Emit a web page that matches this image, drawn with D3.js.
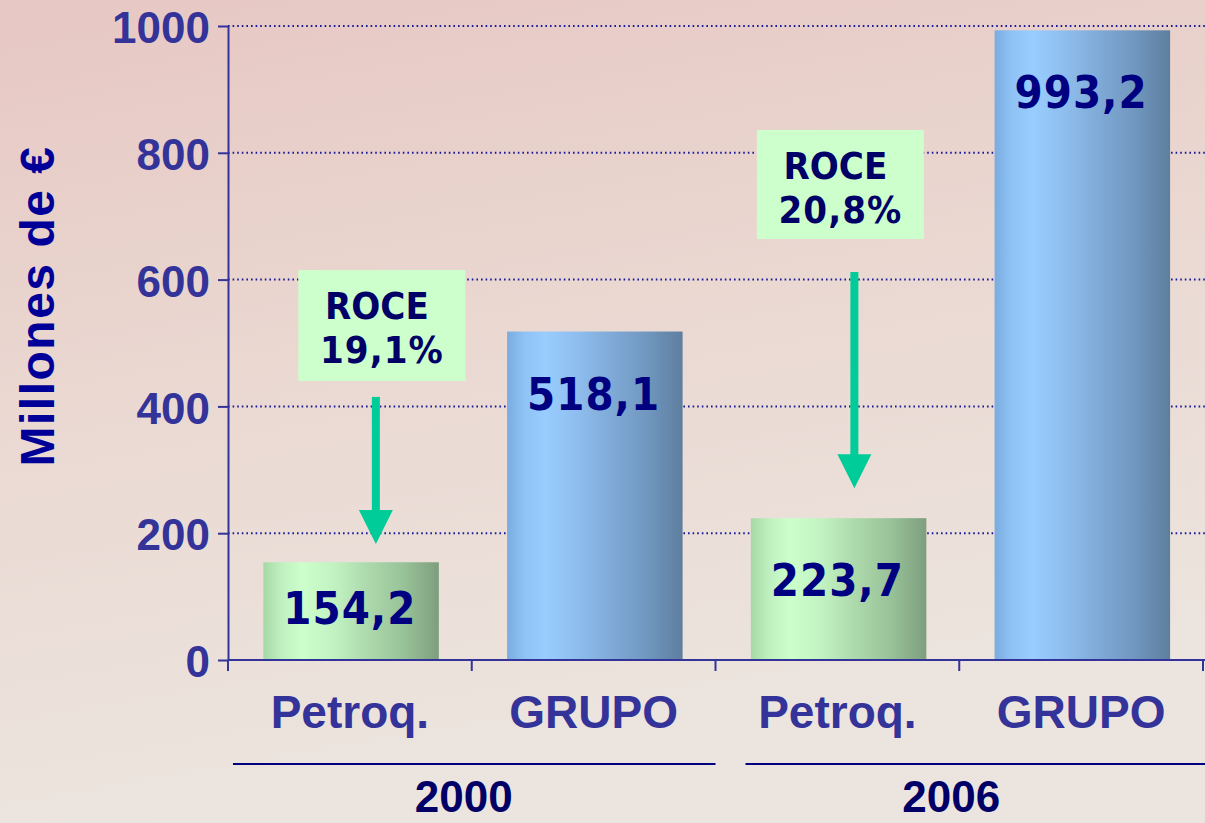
<!DOCTYPE html>
<html>
<head>
<meta charset="utf-8">
<script src="https://cdn.jsdelivr.net/npm/d3@7"></script>
<style>
  body { margin: 0; overflow: hidden; }
  svg { display: block; }
  .arial { font-family: "Liberation Sans", Arial, sans-serif; font-weight: bold; }
  .tahoma { font-family: "DejaVu Sans Condensed", "DejaVu Sans", sans-serif; font-stretch: condensed; font-weight: bold; }
</style>
</head>
<body>
<svg id="chart"></svg>
<script>
// Chart data
const years = ["2000", "2006"];
const categories = ["Petroq.", "GRUPO"];
const values2000 = [154.2, 518.1];
const values2006 = [223.7, 993.2];
const valueLabels2000 = ["154,2", "518,1"];
const valueLabels2006 = ["223,7", "993,2"];
const roceTitle = "ROCE";
const roceLabels = ["19,1%", "20,8%"];
const yTicks = [0, 200, 400, 600, 800, 1000];
const yTitle = "Millones de €";

const width = 1205, height = 823;
const margin = {top: 26, right: 2, bottom: 163, left: 228};
const innerW = width - margin.left - margin.right;
const innerH = height - margin.top - margin.bottom;

// flatten to one row per bar
const rows = [];
years.forEach((y, i) => {
  const vals = i === 0 ? values2000 : values2006;
  const labs = i === 0 ? valueLabels2000 : valueLabels2006;
  categories.forEach((c, j) => {
    rows.push({key: y + "|" + c, year: y, cat: c, catIndex: j, value: vals[j], label: labs[j]});
  });
});

const svg = d3.select("#chart").attr("width", width).attr("height", height);
const defs = svg.append("defs");

// background
const bg = defs.append("linearGradient").attr("id", "bg")
  .attr("x1", 0).attr("y1", 0).attr("x2", 0.25).attr("y2", 1);
bg.append("stop").attr("offset", "0%").attr("stop-color", "#e7c7c3");
bg.append("stop").attr("offset", "50%").attr("stop-color", "#ead9d2");
bg.append("stop").attr("offset", "100%").attr("stop-color", "#ece5df");
svg.append("rect").attr("width", width).attr("height", height).attr("fill", "url(#bg)");

// bar shading (cylinder-like)
const barStops = [
  ["#a6d8a6", "#bfefbf", "#ccffcc", "#c2f2c2", "#acd9ac", "#98c298", "#7e9e7e"],
  ["#7aace0", "#8fc2f5", "#99ccff", "#8ebeee", "#7fa9d6", "#7097bf", "#5e7e9e"]
];
const stopPos = [0, 0.1, 0.22, 0.4, 0.6, 0.8, 1];
barStops.forEach((cols, i) => {
  const g = defs.append("linearGradient").attr("id", "bar" + i)
    .attr("x1", 0).attr("y1", 0).attr("x2", 1).attr("y2", 0);
  cols.forEach((c, k) => g.append("stop").attr("offset", stopPos[k]).attr("stop-color", c));
});

const chart = svg.append("g").attr("transform", `translate(${margin.left},${margin.top})`);

const xScale = d3.scaleBand().domain(rows.map(d => d.key)).range([0, innerW]).padding(0);
const yScale = d3.scaleLinear().domain([0, 1000]).range([innerH, 0]);
const bw = xScale.bandwidth();

// dotted gridlines
chart.append("g").selectAll("line")
  .data(yTicks.filter(t => t > 0))
  .join("line")
  .attr("x1", 0).attr("x2", width - margin.left)
  .attr("y1", d => yScale(d)).attr("y2", d => yScale(d))
  .attr("stroke", "#1a1a99")
  .attr("stroke-width", 2)
  .attr("stroke-dasharray", "1.6,3");

// bars
chart.append("g").selectAll("rect")
  .data(rows)
  .join("rect")
  .attr("x", d => xScale(d.key) + bw * 0.145)
  .attr("width", bw * 0.72)
  .attr("y", d => yScale(d.value))
  .attr("height", d => innerH - yScale(d.value))
  .attr("fill", d => `url(#bar${d.catIndex})`);

// value labels inside bars
chart.append("g").selectAll("text")
  .data(rows)
  .join("text")
  .attr("class", "tahoma")
  .attr("x", d => xScale(d.key) + bw / 2)
  .attr("y", d => {
    const top = yScale(d.value);
    return Math.min(top + 78, (top + innerH) / 2 + 13);
  })
  .attr("text-anchor", "middle")
  .attr("font-size", 45)
  .attr("letter-spacing", 1)
  .attr("fill", "#000080")
  .text(d => d.label);

// y axis
const yAxis = d3.axisLeft(yScale).tickValues(yTicks).tickFormat(d3.format("d"))
  .tickSize(10).tickSizeOuter(0).tickPadding(8);
const yAxisG = chart.append("g").call(yAxis);
yAxisG.select(".domain").attr("stroke", "#333399").attr("stroke-width", 2);
yAxisG.selectAll(".tick line").attr("stroke", "#333399").attr("stroke-width", 2);
yAxisG.selectAll(".tick text")
  .attr("class", "arial")
  .attr("font-size", 44)
  .attr("fill", "#333399")
  .attr("dy", "0.38em");

// x axis line and band-edge ticks
chart.append("line")
  .attr("x1", 0).attr("x2", width - margin.left)
  .attr("y1", innerH).attr("y2", innerH)
  .attr("stroke", "#333399").attr("stroke-width", 2);
const edges = rows.map(d => xScale(d.key)).concat([innerW]);
chart.append("g").selectAll("line")
  .data(edges)
  .join("line")
  .attr("x1", d => d).attr("x2", d => d)
  .attr("y1", innerH).attr("y2", innerH + 11)
  .attr("stroke", "#333399").attr("stroke-width", 2);

// category labels
chart.append("g").selectAll("text")
  .data(rows)
  .join("text")
  .attr("class", "arial")
  .attr("x", d => xScale(d.key) + bw / 2)
  .attr("y", innerH + 68)
  .attr("text-anchor", "middle")
  .attr("font-size", 46)
  .attr("fill", "#333399")
  .text(d => d.cat);

// year separators and labels
years.forEach((y, i) => {
  const start = xScale(y + "|" + categories[0]);
  const end = i === years.length - 1 ? width - margin.left : xScale(y + "|" + categories[1]) + bw;
  chart.append("line")
    .attr("x1", start + (i === 0 ? 5 : 30)).attr("x2", end)
    .attr("y1", innerH + 104).attr("y2", innerH + 104)
    .attr("stroke", "#000080").attr("stroke-width", 2);
  chart.append("text")
    .attr("class", "arial")
    .attr("x", start + bw - 8)
    .attr("y", innerH + 152)
    .attr("text-anchor", "middle")
    .attr("font-size", 44)
    .attr("fill", "#000066")
    .text(y);
});

// y axis title
svg.append("text")
  .attr("class", "arial")
  .attr("transform", "translate(54,306) rotate(-90)")
  .attr("text-anchor", "middle")
  .attr("font-size", 48)
  .attr("letter-spacing", 1.5)
  .attr("fill", "#000099")
  .text(yTitle);

// ROCE callouts: box (top/bottom in data units) and arrow (start/tip in data units)
const roceLayout = [
  {dx: 32, boxTop: 615, boxBottom: 440, arrowDx: 26, arrowFrom: 415, arrowTo: 183},
  {dx: 3, boxTop: 836, boxBottom: 664, arrowDx: 17, arrowFrom: 612, arrowTo: 271}
];
years.forEach((y, i) => {
  const L = roceLayout[i];
  const cx = xScale(y + "|" + categories[0]) + bw / 2;
  const top = yScale(L.boxTop), bottom = yScale(L.boxBottom);
  const boxW = 167;
  chart.append("rect")
    .attr("x", cx + L.dx - boxW / 2).attr("y", top)
    .attr("width", boxW).attr("height", bottom - top)
    .attr("fill", "#ccffcc");
  chart.append("text")
    .attr("class", "tahoma")
    .attr("x", cx + L.dx - 5).attr("y", top + 49)
    .attr("text-anchor", "middle")
    .attr("font-size", 38)
    .attr("fill", "#000066")
    .text(roceTitle);
  chart.append("text")
    .attr("class", "tahoma")
    .attr("x", cx + L.dx).attr("y", top + 93)
    .attr("text-anchor", "middle")
    .attr("font-size", 38)
    .attr("letter-spacing", 1)
    .attr("fill", "#000066")
    .text(roceLabels[i]);

  // arrow
  const ax = cx + L.arrowDx;
  const y0 = yScale(L.arrowFrom), y1 = yScale(L.arrowTo);
  const head = 34;
  chart.append("rect")
    .attr("x", ax - 4).attr("y", y0)
    .attr("width", 8).attr("height", y1 - y0 - head + 2)
    .attr("fill", "#00cc99");
  chart.append("path")
    .attr("d", `M${ax - 17},${y1 - head} L${ax + 17},${y1 - head} L${ax},${y1} Z`)
    .attr("fill", "#00cc99");
});
</script>
</body>
</html>
